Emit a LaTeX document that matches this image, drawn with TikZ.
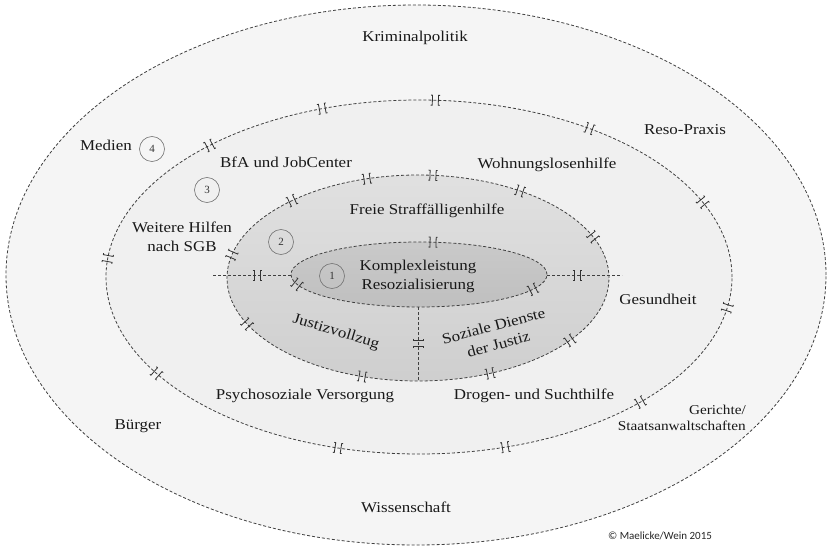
\documentclass[tikz,border=0pt]{standalone}
\usepackage{fontspec}
\setmainfont{Liberation Serif}
\newfontfamily\copyfont{Carlito}
\newcommand{\sx}[1]{\scalebox{1.13}[1]{#1}}
\begin{document}
\begin{tikzpicture}[x=1pt,y=1pt,
  ring/.style={draw=black!75, line width=0.8pt, dash pattern=on 3pt off 2pt},
  brkline/.style={draw=black!80, line width=0.8pt},
  lbl/.style={font=\fontsize{15}{19}\selectfont, inner sep=0pt, text=black!90},
  smalllbl/.style={font=\fontsize{13.5}{16}\selectfont, inner sep=0pt, text=black!90},
  numc/.style={circle, draw=black!55, line width=0.6pt, minimum size=25pt, inner sep=0pt,
               font=\fontsize{11}{12}\selectfont, text=black!80}]
\newcommand{\brkat}[3]{%
  \begin{scope}[shift={(#1,#2)},rotate=#3]
    \draw[brkline] (-4.5,5) -- (-3,5) -- (-3,-5) -- (-4.5,-5);
    \draw[brkline] (4.5,5) -- (3,5) -- (3,-5) -- (4.5,-5);
  \end{scope}}
\newcommand{\brkmark}[5]{%
  \pgfmathsetmacro{\mkx}{#1+#3*cos(#5)}%
  \pgfmathsetmacro{\mky}{-(#2+#4*sin(#5))}%
  \pgfmathsetmacro{\mka}{atan2(-#4*cos(#5),-#3*sin(#5))}%
  \brkat{\mkx}{\mky}{\mka}}
% background
\fill[white] (0,0) rectangle (829,-548);
\useasboundingbox (0,0) rectangle (829,-548);
% ellipses
\filldraw[ring, fill=black!4] (416,-275) ellipse [x radius=410, y radius=270];
\filldraw[ring, fill=black!6] (419,-277) ellipse [x radius=313, y radius=177];
\shade[top color=black!12, bottom color=black!19] (418,-278) ellipse [x radius=191, y radius=103];
\draw[ring] (418,-278) ellipse [x radius=191, y radius=103];
\shade[top color=black!21, bottom color=black!25] (419,-274.5) ellipse [x radius=128, y radius=32.5];
\draw[ring] (419,-274.5) ellipse [x radius=128, y radius=32.5];
% connectors
\coordinate (hl1) at (213,-275);
\coordinate (hl2) at (291,-275);
\coordinate (hr1) at (547,-275);
\coordinate (hr2) at (622,-275);
\coordinate (vt) at (418,-307);
\coordinate (vb) at (418,-381);
\draw[ring] (hl1) -- (hl2);
\draw[ring] (hr1) -- (hr2);
\draw[ring] (vt) -- (vb);
\brkat{257}{-275}{0}
\brkat{577}{-275}{0}
\brkat{418}{-343}{90}
% markers ring 3
\foreach \t in {-87,-108,-57,-132,-25,-174,10,147,45,105,74}{\brkmark{419}{277}{313}{177}{\t}}
% markers ring 2
\foreach \t in {-85.5,-105.5,-57.7,-131.3,-23.6,-167,37.3,153.5,107,67.8}{\brkmark{418}{278}{191}{103}{\t}}
% markers inner
\foreach \t in {-83.7,162.4,27.1}{\brkmark{419}{274.5}{128}{32.5}{\t}}
% labels
\node[lbl] (krim) at (415,-38) {\sx{Kriminalpolitik}};
\node[lbl] (reso) at (685,-130) {\sx{Reso-Praxis}};
\node[lbl] (medien) at (106,-145) {\sx{Medien}};
\node[lbl] (bfa) at (286,-162) {\sx{BfA und JobCenter}};
\node[lbl] (wohn) at (547,-165) {\sx{Wohnungslosenhilfe}};
\node[lbl, align=center] (weitere) at (182,-237) {\sx{Weitere Hilfen}\\\sx{nach SGB}};
\node[lbl] (freie) at (427,-211) {\sx{Freie Straffälligenhilfe}};
\node[lbl, align=center] (komplex) at (418,-276) {\sx{Komplexleistung}\\\sx{Resozialisierung}};
\node[lbl] (gesund) at (658,-299) {\sx{Gesundheit}};
\node[lbl, rotate=-17] (justiz) at (336,-332) {\sx{Justizvollzug}};
\node[lbl, align=center, rotate=15] (soziale) at (496,-335) {\sx{Soziale Dienste}\\\sx{der Justiz}};
\node[lbl] (psycho) at (305,-396) {\sx{Psychosoziale Versorgung}};
\node[lbl] (drogen) at (534,-396) {\sx{Drogen- und Suchthilfe}};
\node[lbl] (buerger) at (138,-426) {\sx{Bürger}};
\node[smalllbl, align=right, anchor=east] (gericht) at (746,-418) {\sx{Gerichte/}\\\sx{Staatsanwaltschaften}};
\node[lbl] (wiss) at (406,-507) {\sx{Wissenschaft}};
\node[inner sep=0pt, font=\copyfont\fontsize{11}{12}\selectfont, text=black!85] (copy) at (660,-536) {© Maelicke/Wein 2015};
% numbered circles
\node[numc] (c4) at (152,-149) {4};
\node[numc] (c3) at (207,-190) {3};
\node[numc] (c2) at (281,-242) {2};
\node[numc] (c1) at (332,-276) {1};
\end{tikzpicture}
\end{document}
